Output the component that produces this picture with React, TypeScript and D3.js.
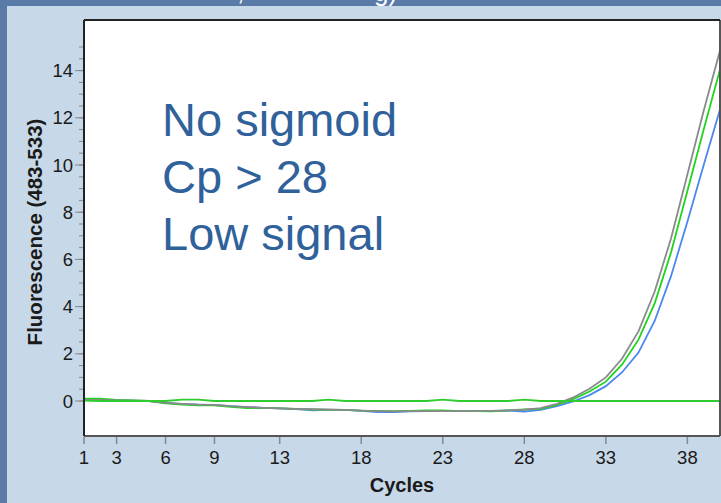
import React from "react";
import * as d3 from "d3";

const cycles = [1,2,3,4,5,6,7,8,9,10,11,12,13,14,15,16,17,18,19,20,21,22,23,24,25,26,27,28,29,30,31,32,33,34,35,36,37,38,39,40];
const xTickLabels = [1, 3, 6, 9, 13, 18, 23, 28, 33, 38];
const yMajorTicks = [0, 2, 4, 6, 8, 10, 12, 14];
const yMinorTicks = [0,0.5,1,1.5,2,2.5,3,3.5,4,4.5,5,5.5,6,6.5,7,7.5,8,8.5,9,9.5,10,10.5,11,11.5,12,12.5,13,13.5,14,14.5,15];

const graySeries = [0.05,0.05,0.03,0.02,0.0,-0.08,-0.12,-0.15,-0.16,-0.22,-0.26,-0.29,-0.31,-0.33,-0.35,-0.36,-0.38,-0.41,-0.43,-0.44,-0.43,-0.43,-0.43,-0.43,-0.42,-0.42,-0.4,-0.37,-0.3,-0.12,0.15,0.52,1.0,1.8,2.95,4.65,6.9,9.6,12.3,14.85];
const greenSeries = [0.1,0.1,0.05,0.03,0.0,-0.1,-0.15,-0.18,-0.18,-0.25,-0.3,-0.29,-0.31,-0.33,-0.36,-0.38,-0.38,-0.41,-0.42,-0.43,-0.42,-0.4,-0.4,-0.43,-0.43,-0.44,-0.4,-0.36,-0.33,-0.16,0.08,0.4,0.82,1.55,2.6,4.15,6.3,8.9,11.5,14.05];
const blueSeries = [0.05,0.04,0.03,0.02,0.0,-0.08,-0.12,-0.15,-0.17,-0.22,-0.26,-0.29,-0.31,-0.34,-0.4,-0.38,-0.38,-0.42,-0.47,-0.47,-0.44,-0.43,-0.43,-0.43,-0.42,-0.42,-0.41,-0.45,-0.38,-0.22,-0.02,0.25,0.63,1.22,2.05,3.4,5.3,7.6,10.0,12.35];
const flatGreenSeries = [0.02,0,0,0,0,0,0.06,0.06,0,0,0,0,0,0,0,0.06,0,0,0,0,0,0,0.06,0,0,0,0,0.06,0,0,0,0,0,0,0,0,0,0,0,0];

const annotationLines = ["No sigmoid", "Cp > 28", "Low signal"];

const W = 721, H = 503;
const PL = 84, PR = 720, PT = 20, PB = 436;

export default function App() {
  const x = d3.scaleLinear().domain([1, 40]).range([PL, PR]);
  const y = d3.scaleLinear().domain([0, 14]).range([401, 70.6]);
  const line = d3.line<number>().x((_, i) => x(cycles[i])).y((d) => y(d));
  const series = [
    { data: blueSeries, color: "#4a88f0" },
    { data: greenSeries, color: "#1ed41e" },
    { data: graySeries, color: "#8a8a8a" },
    { data: flatGreenSeries, color: "#2fcc2f" },
  ];
  const font = "'Liberation Sans', Arial, sans-serif";
  return (
    <svg width={W} height={H} style={{ position: "absolute", left: 0, top: 0 }} fontFamily={font}>
      <defs>
        <clipPath id="plotclip">
          <rect x={PL} y={PT} width={PR - PL} height={PB - PT} />
        </clipPath>
      </defs>
      <rect x={0} y={0} width={W} height={H} fill="#5a7ba7" />
      <rect x={7} y={6} width={W} height={H} fill="#c7d8e8" />
      <g fill="#ffffff" fontSize={26}>
        <text x={237} y={0}>,</text>
        <text x={374} y={0.5}>g)</text>
      </g>
      <rect x={PL} y={PT} width={PR - PL} height={PB - PT} fill="#ffffff" />
      <g clipPath="url(#plotclip)">
        {series.map((s, i) => (
          <path key={i} d={line(s.data) || ""} fill="none" stroke={s.color} strokeWidth={1.8} />
        ))}
      </g>
      {/* frame */}
      <line x1={PL} x2={PR} y1={PB} y2={PB} stroke="#555" strokeWidth={2} />
      <line x1={PR} x2={PR} y1={PT} y2={PB} stroke="#555" strokeWidth={2} />
      <line x1={PL} x2={PR} y1={PT} y2={PT} stroke="#222" strokeWidth={2} />
      <line x1={PL} x2={PL} y1={PT} y2={PB} stroke="#222" strokeWidth={2} />
      {/* y ticks */}
      {yMinorTicks.map((t) => (
        <line key={"m" + t} x1={PL - 5} x2={PL - 1} y1={y(t)} y2={y(t)} stroke="#888" strokeWidth={1} />
      ))}
      {yMajorTicks.map((t) => (
        <g key={"M" + t}>
          <line x1={PL - 9} x2={PL - 1} y1={y(t)} y2={y(t)} stroke="#888" strokeWidth={1} />
          <text x={73} y={y(t)} dy="0.36em" textAnchor="end" fontSize={18.5} fill="#1a1a1a">{t}</text>
        </g>
      ))}
      {/* x ticks */}
      {xTickLabels.map((t) => (
        <g key={"x" + t}>
          <line x1={x(t)} x2={x(t)} y1={PB + 1} y2={PB + 8} stroke="#888" strokeWidth={1.5} />
          <text x={x(t)} y={464} textAnchor="middle" fontSize={18.5} fill="#1a1a1a">{t}</text>
        </g>
      ))}
      <text x={(PL + PR) / 2} y={492} textAnchor="middle" fontSize={20} fontWeight="bold" fill="#1a1a1a">Cycles</text>
      <text transform={`translate(42,${232}) rotate(-90)`} textAnchor="middle" fontSize={20.5} fontWeight="bold" fill="#1a1a1a">Fluorescence (483-533)</text>
      <g fill="#30619b" fontSize={47}>
        {annotationLines.map((t, i) => (
          <text key={t} x={162} y={136 + i * 57}>{t}</text>
        ))}
      </g>
    </svg>
  );
}
